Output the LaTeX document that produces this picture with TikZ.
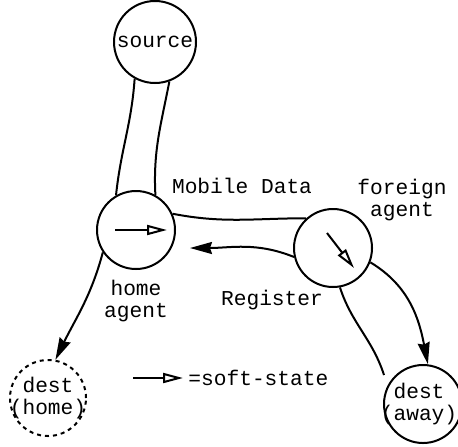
\documentclass[tikz,border=0pt]{standalone}
\usepackage{fontspec}
\setmonofont{Liberation Mono}
\usetikzlibrary{arrows.meta}

\tikzset{
  site/.style={circle, draw, line width=1pt, inner sep=0pt, minimum size=39pt},
  flow/.style={line width=1pt},
  push/.style={line width=1pt, -{Stealth[length=11pt,width=6pt,inset=1pt]}},
  soft/.style={line width=1pt, -{Triangle[open,length=10pt,width=5pt]}},
  txt/.style={align=center, inner sep=0pt}
}

\begin{document}
\begin{tikzpicture}[x=0.5pt, y=0.5pt, font=\ttfamily\fontsize{10.6}{11.3}\selectfont]
          \useasboundingbox (0,0) rectangle (458,446);

          \node (1) [site, minimum size=41pt] at (155,404) {source};
          \node (2) [site] at (136,216) {};
          \node (3) [site] at (333,198) {};
          \node (4) [site, minimum size=38pt, dash pattern=on 2pt off 2pt] at (48,48) {};
          \node (5) [site] at (423,42) {};

          \node (4t) [txt] at (4) {dest\\(home)};
          \node (5t) [txt] at (419,42) {dest\\(away)};
          \node (6) [txt] at (242,260) {Mobile Data};
          \node (7) [txt] at (402,246) {foreign\\agent};
          \node (8) [txt] at (136,145) {home\\agent};
          \node (9) [txt] at (272,146) {Register};
          \node (10) [txt, anchor=west] at (188,68) {=soft-state};

          \coordinate (r) at (190,198);
          \coordinate (e) at (384,71);
          \coordinate (h1) at (115,216);
          \coordinate (h2) at (167,216);
          \coordinate (f1) at (327,213);
          \coordinate (f2) at (354,178);
          \coordinate (l1) at (133,68);
          \coordinate (l2) at (183,68);

          \path[flow]
            (1.241) edge[out=266,in=84] (2.120)
            (1.290) edge[out=259,in=93] (2.61)
            (2.24) edge[out=349,in=180] (3.132)
            (3.280) edge[out=288,in=108] (e);

          \path[push]
            (3.193) edge[out=158,in=0] (r)
            (3.339) edge[out=329,in=101] (5.83)
            (2.214) edge[out=255,in=64] (4.79);

          \path[soft]
            (h1) edge (h2)
            (f1) edge (f2)
            (l1) edge (l2);

        \end{tikzpicture}
\end{document}
